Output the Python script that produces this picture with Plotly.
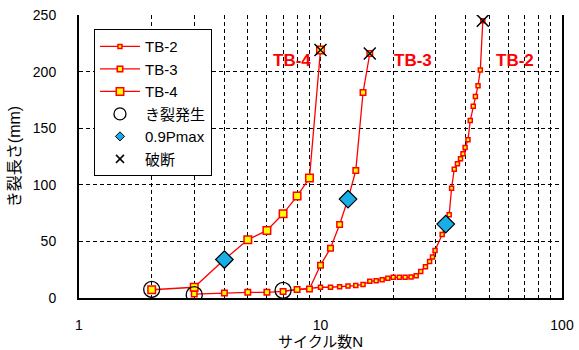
import math
import plotly.graph_objects as go

# Crack length a (mm) versus cycle count N for each specimen
tb2_n = [7, 10, 11, 12, 13, 14, 15, 16, 17, 18, 19, 20, 21.2, 22.4, 23.7, 24.9,
         26.0, 27.2, 28.3, 29.1, 29.8, 31.9, 33.0, 34.1, 34.9, 35.8, 36.9, 38.0,
         38.9, 39.7, 40.8, 41.7, 42.9, 43.8, 44.9, 45.9, 47.0]
tb2_a = [6, 9.5, 9.5, 10, 10.5, 11, 12, 14.7, 15.3, 16.2, 17.5, 18.3, 18.3, 18.3,
         18.5, 19.7, 23.5, 27.6, 32.3, 36.2, 42, 56, 65.3, 73.5, 97, 113.8, 118.5,
         123, 127.4, 133, 139.7, 156.8, 169.5, 178, 187.5, 201.5, 245]

tb3_n = [3, 4, 5, 6, 7, 8, 9, 10, 11, 12, 13, 14, 15, 16]
tb3_a = [3.5, 4.4, 5, 5, 5.8, 7.6, 8, 29, 44, 65, 87.4, 112.6, 181.5, 216]

tb4_n = [2, 3, 4, 5, 6, 7, 8, 9, 10]
tb4_a = [7.3, 9.5, 34, 51.5, 59.7, 74.4, 90, 106, 219]

# Events: crack initiation, 0.9Pmax, fracture
init_n = [2, 3, 7]
init_a = [7.6, 2.9, 6.7]
pmax_n = [4, 13, 33]
pmax_a = [34, 87.4, 65.3]
break_n = [10, 16, 47]
break_a = [219, 216, 245]

# Axis ticks
x_grid = [1, 2, 3, 4, 5, 6, 7, 8, 9, 10, 20, 30, 40, 50, 60, 70, 80, 90, 100]
x_text = ["1" if v == 1 else "10" if v == 10 else "100" if v == 100 else "" for v in x_grid]
y_ticks = [0, 50, 100, 150, 200, 250]

# Series labels placed on the plot
labels = ["TB-4", "TB-3", "TB-2"]
label_n = [7.6, 24.2, 63.9]
label_a = [210, 210, 210]

RED = "#FF0000"
YELLOW = "#FFFF00"
FONT = "Liberation Sans, Arial, Noto Sans CJK JP"

fig = go.Figure()

def series(name, n, a, size):
    fig.add_trace(go.Scatter(
        x=n, y=a, name=name, mode="lines+markers",
        line=dict(color=RED, width=1.3),
        marker=dict(symbol="square", size=size, color=YELLOW,
                    line=dict(color=RED, width=1.5)),
    ))

series("TB-2", tb2_n, tb2_a, 4)
series("TB-3", tb3_n, tb3_a, 5.5)
series("TB-4", tb4_n, tb4_a, 7.5)

# Event markers on the plot
fig.add_trace(go.Scatter(
    x=init_n, y=init_a, mode="markers", showlegend=False,
    marker=dict(symbol="circle-open", size=16, color="black", line=dict(width=1.3)),
))
fig.add_trace(go.Scatter(
    x=pmax_n, y=pmax_a, mode="markers", showlegend=False,
    marker=dict(symbol="diamond", size=13.5, color="#18AEE8",
                line=dict(color="black", width=1.2)),
))
fig.add_trace(go.Scatter(
    x=break_n, y=break_a, mode="markers", showlegend=False,
    marker=dict(symbol="x-thin", size=12, color="black",
                line=dict(color="black", width=1.5)),
))

# Legend entries for the events (smaller symbols in the key)
fig.add_trace(go.Scatter(
    x=[None], y=[None], mode="markers", name="き裂発生",
    marker=dict(symbol="circle-open", size=12, color="black", line=dict(width=1.3)),
))
fig.add_trace(go.Scatter(
    x=[None], y=[None], mode="markers", name="0.9Pmax",
    marker=dict(symbol="diamond", size=7, color="#18AEE8",
                line=dict(color="black", width=1)),
))
fig.add_trace(go.Scatter(
    x=[None], y=[None], mode="markers", name="破断",
    marker=dict(symbol="x-thin", size=8, color="black",
                line=dict(color="black", width=1.5)),
))

# Annotations on a log axis take log10 positions
for txt, n, a in zip(labels, label_n, label_a):
    fig.add_annotation(x=math.log10(n), y=a, xref="x", yref="y", text=f"<b>{txt}</b>",
                       showarrow=False, font=dict(color=RED, size=17, family=FONT))

grid = dict(gridcolor="black", griddash="4px,3px", gridwidth=1.2)

fig.update_xaxes(
    type="log", range=[0, 2], tickvals=x_grid, ticktext=x_text,
    showgrid=True, **grid, zeroline=False, automargin=False,
    showline=True, linecolor="black", linewidth=2, mirror=False,
    ticks="", ticklabelstandoff=13,
    tickfont=dict(size=14, color="black", family=FONT),
    title=dict(text="サイクル数N", font=dict(size=15, color="black", family=FONT), standoff=7),
)
fig.update_yaxes(
    range=[0, 250], tickvals=y_ticks,
    showgrid=True, **grid, zeroline=False, automargin=False,
    showline=True, linecolor="black", linewidth=2, mirror=True,
    ticks="", ticklabelstandoff=18,
    tickfont=dict(size=14, color="black", family=FONT),
    title=dict(text="き裂長さ(mm)", font=dict(size=16, color="black", family=FONT), standoff=8),
)

fig.update_layout(
    width=579, height=350,
    margin=dict(l=79, r=17, t=15, b=52, autoexpand=False),
    paper_bgcolor="white", plot_bgcolor="white",
    font=dict(family=FONT, size=14, color="black"),
    showlegend=True,
    legend=dict(
        x=0.031, y=0.95, xanchor="left", yanchor="top",
        bgcolor="white", bordercolor="black", borderwidth=1,
        font=dict(size=15, color="black", family=FONT),
        traceorder="normal", itemwidth=40,
    ),
)

fig.write_html("out.html")
